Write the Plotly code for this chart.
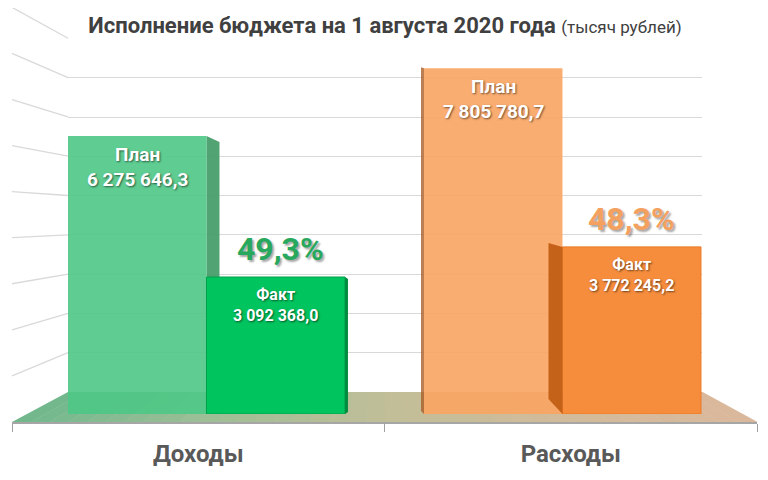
import plotly.graph_objects as go

# ---------------- data ----------------
categories = ["Доходы", "Расходы"]
plan_values = [6275646.3, 7805780.7]
fact_values = [3092368.0, 3772245.2]
plan_labels = ["6 275 646,3", "7 805 780,7"]
fact_labels = ["3 092 368,0", "3 772 245,2"]
series_names = ["План", "Факт"]
grid_levels = [1, 2, 3, 4, 5, 6, 7, 8, 9]

title_main = "Исполнение бюджета на 1 августа 2020 года"
title_unit = "(тысяч рублей)"

# ---------------- layout geometry (window pixels) ----------------
W, H = 768, 480
OFF = 8                                      # default page body margin
PL, PR, PT, PB = 12, 757, 38, 422            # paper area (front floor edge)
BACK_L, BACK_R, BACK_Y = 68, 702, 392        # back wall / floor back edge
BASE_Y = 414                                 # bar base
PX_PER_M = 44.3                              # pixels per million on bar scale
CAT_PX = 356                                 # pixels between category centres
BARGAP = 0.222
GRID_STEP = 39.3

pw, ph = PR - PL, PB - PT
def px(x):
    return (x - PL) / pw
def py(y):
    return (PB - y) / ph

x_left = -(1 - BARGAP) / 2
x_range = [x_left, x_left + (BACK_R - BACK_L) / CAT_PX]
y_max = (BASE_Y - PT) / PX_PER_M * 1e6
y_range = [0, y_max]
bw = (1 - BARGAP) / 2
u_per_px_x = 1 / CAT_PX
u_per_px_y = 1e6 / PX_PER_M

y2_lo = -(BASE_Y - BACK_Y) / GRID_STEP
y2_hi = (BACK_Y - PT) / GRID_STEP + 0.01

FONT = "Roboto, 'Open Sans', sans-serif"

fig = go.Figure()

xpos = list(range(len(categories)))

fig.add_trace(go.Bar(
    x=xpos, y=plan_values, name=series_names[0],
    marker=dict(color=["rgba(78,200,134,0.9)", "rgba(250,164,98,0.9)"], line=dict(width=0)),
    hoverinfo="skip", showlegend=False,
))
fig.add_trace(go.Bar(
    x=xpos, y=fact_values, name=series_names[1],
    marker=dict(color=["#00c45e", "#f68d3d"],
                line=dict(color=["rgb(0,160,75)", "rgb(236,120,36)"], width=1)),
    hoverinfo="skip", showlegend=False,
))

# helper traces so the helper axes exist
fig.add_trace(go.Scatter(x=[0], y=[None], xaxis="x", yaxis="y2", mode="markers",
                         showlegend=False, hoverinfo="skip"))
fig.add_trace(go.Scatter(x=categories, y=[5, 5], xaxis="x2", yaxis="y3", mode="markers",
                         marker=dict(opacity=0), showlegend=False, hoverinfo="skip"))

shapes = []

# floor (gradient in strips)
cols = [(112, 184, 140), (156, 190, 150), (192, 190, 152), (210, 187, 154), (218, 184, 156)]
def col_at(t):
    n = len(cols) - 1
    i = min(int(t * n), n - 1)
    f = t * n - i
    c = [round(cols[i][k] + (cols[i + 1][k] - cols[i][k]) * f) for k in range(3)]
    return "rgb(%d,%d,%d)" % tuple(c)
N = 40
for i in range(N):
    t0, t1 = i / N, (i + 1) / N
    bx0 = BACK_L + t0 * (BACK_R - BACK_L); bx1 = BACK_L + t1 * (BACK_R - BACK_L)
    fx0 = PL + t0 * pw; fx1 = PL + t1 * pw
    path = "M %f,%f L %f,%f L %f,%f L %f,%f Z" % (
        px(bx0), py(BACK_Y), px(bx1 + 0.6), py(BACK_Y), px(fx1 + 0.6), py(PB), px(fx0), py(PB))
    shapes.append(dict(type="path", path=path, xref="paper", yref="paper",
                       fillcolor=col_at((t0 + t1) / 2), line=dict(width=0), layer="below"))

# side wall diagonal lines
for k in grid_levels:
    by = BACK_Y - k * GRID_STEP
    fy = 1.172 * by - 37.5
    shapes.append(dict(type="line", xref="paper", yref="paper",
                       x0=px(PL), y0=py(fy), x1=px(BACK_L), y1=py(by),
                       line=dict(color="#d9d9d9", width=1.3), layer="below"))

# 3D side faces
x0 = xpos[0]; x1 = x0 + 13 * u_per_px_x
v = plan_values[0]
shapes.append(dict(type="path", xref="x", yref="y", layer="between",
                   path="M %f,%f L %f,%f L %f,%f L %f,%f Z" % (
                       x0, v, x1, v - 6 * u_per_px_y, x1, 14 * u_per_px_y, x0, 0),
                   fillcolor="rgba(72,158,108,0.95)", line=dict(width=0)))
x0 = xpos[0] + bw; x1 = x0 + 3 * u_per_px_x
v = fact_values[0]
shapes.append(dict(type="path", xref="x", yref="y", layer="above",
                   path="M %f,%f L %f,%f L %f,%f L %f,%f Z" % (
                       x0, v, x1, v - 2 * u_per_px_y, x1, 2 * u_per_px_y, x0, 0),
                   fillcolor="rgb(0,140,62)", line=dict(width=0)))
x1 = xpos[1] - bw; x0 = x1 - 3 * u_per_px_x
v = plan_values[1]
shapes.append(dict(type="path", xref="x", yref="y", layer="above",
                   path="M %f,%f L %f,%f L %f,%f L %f,%f Z" % (
                       x0, v + 1 * u_per_px_y, x1, v, x1, 0, x0, 3 * u_per_px_y),
                   fillcolor="rgba(170,95,40,0.8)", line=dict(width=0)))
x1 = xpos[1]; x0 = x1 - 14 * u_per_px_x
v = fact_values[1]
shapes.append(dict(type="path", xref="x", yref="y", layer="above",
                   path="M %f,%f L %f,%f L %f,%f L %f,%f Z" % (
                       x0, v + 4 * u_per_px_y, x1, v, x1, 0, x0, 15 * u_per_px_y),
                   fillcolor="rgb(196,98,26)", line=dict(width=0)))

annotations = []
white_shadow = "1px 1px 2px rgba(0,0,0,0.55)"
for i in xpos:
    annotations.append(dict(
        x=i - bw / 2, y=plan_values[i], xref="x", yref="y",
        text="<b>%s<br>%s</b>" % (series_names[0], plan_labels[i]),
        showarrow=False, yanchor="middle", yshift=-31,
        font=dict(family=FONT, size=19, color="white", shadow=white_shadow)))
    annotations.append(dict(
        x=i + bw / 2, y=fact_values[i], xref="x", yref="y",
        text="<b>%s<br>%s</b>" % (series_names[1], fact_labels[i]),
        showarrow=False, yanchor="middle", yshift=-28,
        font=dict(family=FONT, size=16, color="white", shadow=white_shadow)))

pct_colors = ["#27a85c", "#f4a05e"]
pct_xshift = [5, 0]
for i in xpos:
    pct = fact_values[i] / plan_values[i] * 100
    annotations.append(dict(
        x=i + bw / 2, y=fact_values[i], xref="x", yref="y",
        text="<b>%s%%</b>" % ("%.1f" % pct).replace(".", ","),
        showarrow=False, yanchor="middle", yshift=28, xshift=pct_xshift[i],
        font=dict(family=FONT, size=32, color=pct_colors[i],
                  shadow="2px 2px 2px rgba(0,0,0,0.35)")))

FW, FH = W - OFF, H - OFF
fig.update_layout(
    width=FW, height=FH,
    margin=dict(l=PL - OFF, r=W - PR, t=PT - OFF, b=H - PB, pad=0, autoexpand=False),
    paper_bgcolor="white", plot_bgcolor="rgba(0,0,0,0)",
    barmode="group", bargap=BARGAP, bargroupgap=0,
    showlegend=False,
    title=dict(
        text="<b>%s</b> <span style='font-size:17px'>%s</span>" % (title_main, title_unit),
        x=(385 - OFF) / FW, xref="container", xanchor="center",
        y=1 - (25 - OFF) / FH, yref="container", yanchor="middle",
        font=dict(family=FONT, size=22, color="#404040")),
    xaxis=dict(domain=[px(BACK_L), px(BACK_R)], range=x_range, visible=False,
               anchor="y"),
    yaxis=dict(domain=[py(BASE_Y), 1], range=y_range, visible=False, anchor="x"),
    yaxis2=dict(overlaying="y", anchor="x", range=[y2_lo, y2_hi],
                tickvals=grid_levels, showgrid=True, gridcolor="#d9d9d9", gridwidth=1.3,
                showticklabels=False, zeroline=False, showline=False, ticks=""),
    xaxis2=dict(domain=[0, 1], anchor="y3", type="category",
                categoryorder="array", categoryarray=categories,
                range=[-0.5, len(categories) - 0.5],
                tickson="boundaries", ticks="outside", ticklen=8,
                tickcolor="#a0a0a0", tickwidth=1,
                showline=True, linecolor="#a6a6a6", linewidth=1.5,
                showgrid=False, zeroline=False, ticklabelstandoff=9,
                tickfont=dict(family=FONT, size=24, color="#595959", weight="bold")),
    yaxis3=dict(domain=[0, 1], anchor="x2", range=[0, 1], visible=False),
    shapes=shapes, annotations=annotations,
)

fig.write_html("out.html")
